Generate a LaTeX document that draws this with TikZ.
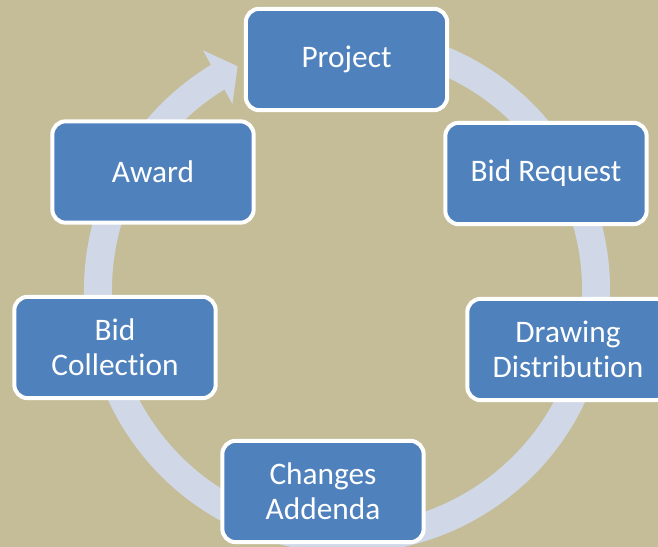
\documentclass[tikz,border=0pt]{standalone}
\usepackage{fontspec}
\setmainfont{Carlito}[Ligatures=NoCommon]
\usetikzlibrary{arrows.meta, bending}
\definecolor{tanbg}{RGB}{196,189,151}
\definecolor{stepblue}{RGB}{79,129,189}
\definecolor{ringblue}{RGB}{208,216,232}

\begin{document}
\begin{tikzpicture}[x=0.75pt, y=0.75pt]
    % Styles
    \tikzstyle{stage} = [draw=white, line width=3pt, fill=stepblue, rounded corners=10pt,
                         minimum width=151pt, minimum height=76pt, text=white, align=center,
                         font=\fontsize{23.5}{26}\selectfont]
    \tikzstyle{ring} = [ringblue, line width=21pt, -{Triangle[width=45pt, length=17pt]}]

    % Canvas
    \useasboundingbox (0,0) rectangle (658,547);
    \clip (0,0) rectangle (658,547);
    \fill[tanbg] (0,0) rectangle (658,547);

    % Cycle arrow behind the stages
    \coordinate (hub) at (347,257);
    \draw[ring] ([shift={(80:249)}]hub) arc[start angle=80, end angle=-243.95, radius=249];

    % Stages, clockwise from the top
    \node[stage] (project) at (346.5,487.5) {Project};
    \node[stage] (bidrequest) at (546,373.5) {Bid Request};
    \node[stage] (drawing) at (568,197.5) {Drawing\\Distribution};
    \node[stage] (changes) at (323,55.5) {Changes\\Addenda};
    \node[stage] (collection) at (115,199.5) {Bid\\Collection};
    \node[stage] (award) at (153,375) {Award};
\end{tikzpicture}
\end{document}
